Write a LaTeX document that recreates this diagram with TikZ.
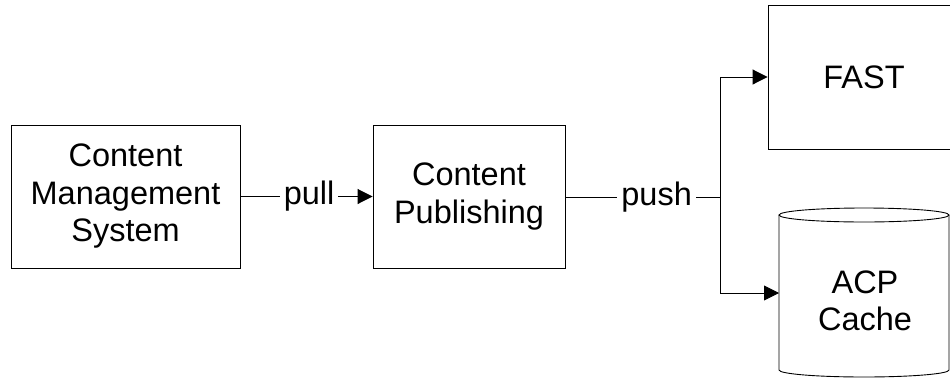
\documentclass[tikz,border=0pt]{standalone}
\usepackage{fontspec}
\setmainfont{Liberation Sans}
\usetikzlibrary{arrows.meta}
\begin{document}
\begin{tikzpicture}[x=1pt,y=-1pt,
  txt/.style={font=\fontsize{32.5}{37.5}\selectfont},
  box/.style={draw, line width=0.9pt, align=center, inner sep=0pt, txt},
  lbl/.style={fill=white, inner xsep=4pt, inner ysep=1pt, txt},
  arr/.style={line width=0.9pt, -{Triangle[length=15pt,width=15pt]}},
  ln/.style={line width=0.9pt}]
\useasboundingbox (0,0) rectangle (950,378);
\node[box, minimum width=229pt, minimum height=143pt] (cms) at (125.5,196.5) {Content\\Management\\System};
\node[box, minimum width=192pt, minimum height=143pt] (cp) at (469,196.5) {Content\\Publishing};
\node[box, minimum width=192pt, minimum height=144pt] (fast) at (864,77) {FAST};
% cylinder
\draw[ln] (779,215) -- (779,370) arc[start angle=180, end angle=0, x radius=85, y radius=7] -- (949,215);
\draw[ln] (864,215) ellipse[x radius=85, y radius=7];
\node[align=center, txt] (acp) at (865,301) {ACP\\Cache};
\coordinate (acpin) at (779,293);
\coordinate (br) at (720,197);
\draw[arr] (cms.east) -- node[lbl, pos=0.52]{pull} (cp.west);
\draw[ln] (cp.east |- br) -- node[lbl, pos=0.59]{push} (br);
\draw[arr] (br) |- (fast.west);
\draw[arr] (br) |- (acpin);
\end{tikzpicture}
\end{document}
